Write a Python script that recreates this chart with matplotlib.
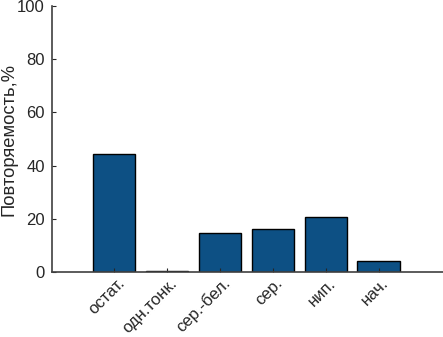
import matplotlib
matplotlib.use("Agg")
import matplotlib.pyplot as plt
import matplotlib.transforms as mtransforms
import numpy as np

plt.rcParams['font.family'] = ['Liberation Sans', 'DejaVu Sans']

categories = ['остат.', 'одн.тонк.', 'сер.-бел.', 'сер.', 'нип.', 'нач.']
values = [44.2, 0.5, 14.6, 16.0, 20.7, 4.1]  # in %

x = np.arange(1, len(categories) + 1)

fig = plt.figure(figsize=(4.43, 3.37), dpi=100)
ax = fig.add_axes([0.117, 0.193, 0.883, 0.789])
ax.bar(x, values, width=0.8, color='#0d5084', edgecolor='black', linewidth=1)

ax.set_xlim(-0.18, 7.22)
ax.set_ylim(0, 100)
ax.set_yticks([0, 20, 40, 60, 80, 100])
ax.set_xticks(x)
ax.set_xticklabels(categories, rotation=45, ha='right', va='baseline',
                   rotation_mode='anchor')

ax.set_ylabel('Повторяемость,%', fontsize=13.2, color='#262626')
ax.yaxis.set_label_coords(-0.088, 0.5)

for side in ['top', 'right']:
    ax.spines[side].set_visible(False)
for side in ['left', 'bottom']:
    ax.spines[side].set_color('#404040')
    ax.spines[side].set_linewidth(1.2)
ax.tick_params(axis='y', direction='in', length=3, labelsize=12, colors='#262626', pad=5)
ax.tick_params(axis='x', direction='in', length=3, labelsize=12, colors='#262626', pad=0)

# move each label so its end sits a little right of and below its tick
shift = mtransforms.ScaledTranslation(11 / 100, -12 / 100, fig.dpi_scale_trans)
for lab in ax.get_xticklabels():
    lab.set_transform(lab.get_transform() + shift)

fig.savefig('out.png', dpi=100)
